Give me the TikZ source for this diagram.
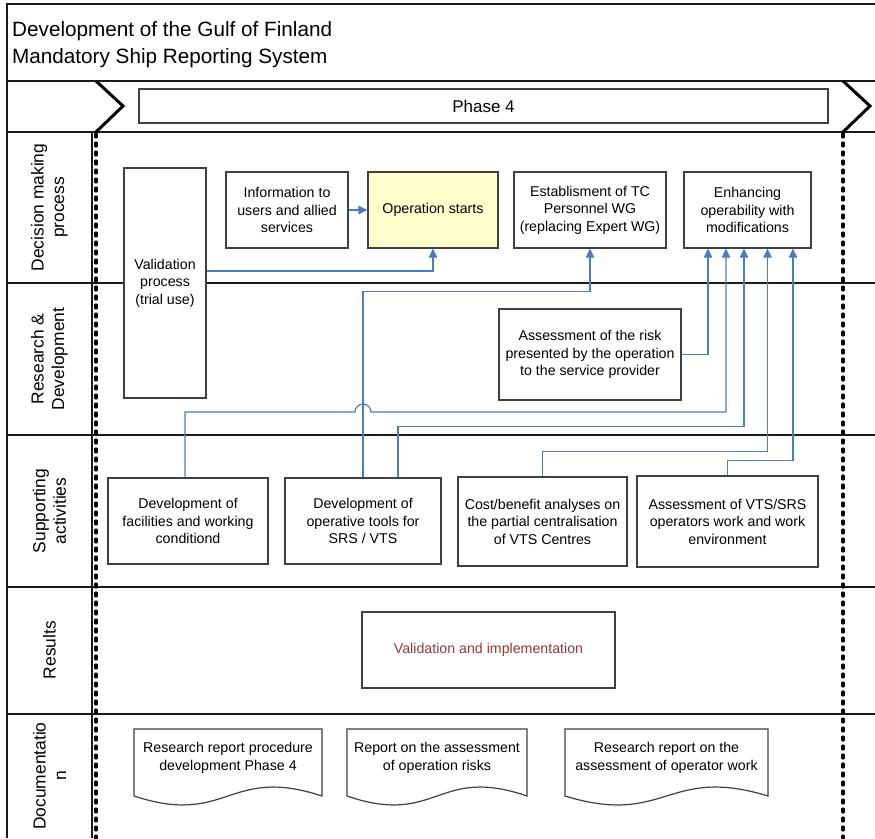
\documentclass[tikz,border=0pt]{standalone}
\usepackage{fontspec}
\setmainfont{Liberation Sans}
\usetikzlibrary{arrows.meta,calc}

\definecolor{connblue}{HTML}{4A7EBB}
\definecolor{opfill}{HTML}{FFFFCC}
\definecolor{resred}{HTML}{953735}
\definecolor{framegray}{HTML}{1A1A1A}
\definecolor{boxgray}{HTML}{404040}

\tikzset{
  frame/.style={draw=framegray, line width=1.1pt},
  chevron/.style={draw=black, line width=3pt},
  phaseline/.style={draw=black, line width=3.2pt, line cap=round, dash pattern=on 3pt off 6pt},
  box/.style={draw=boxgray, fill=white, line width=1.2pt, rectangle, inner sep=2pt,
    align=center, font=\fontsize{14.2}{17.5}\selectfont},
  doctext/.style={align=center, inner sep=0pt, font=\fontsize{14.2}{17.5}\selectfont},
  docshape/.style={draw=boxgray, line width=1.2pt, fill=white},
  lanelabel/.style={rotate=90, align=center, inner sep=0pt,
    font=\fontsize{17.4}{20.5}\selectfont},
  titletext/.style={anchor=base west, inner sep=0pt, font=\fontsize{20.7}{27}\selectfont},
  conn/.style={draw=connblue, line width=1.2pt},
  arr/.style={-{Triangle[width=8.5pt,length=9pt]}},
}

\begin{document}
\begin{tikzpicture}[x=1pt,y=-1pt]
\useasboundingbox (0,0) rectangle (875,838);

% ---- swimlane frame ----
\draw[frame] (7,838) -- (7,4) -- (875,4);
\foreach \yy in {81,132,283,435,587,714}
  \draw[frame] (7,\yy) -- (875,\yy);
\draw[frame] (92,132) -- (92,838);

% ---- title ----
\node[titletext] (title1) at (12,36) {Development of the Gulf of Finland};
\node[titletext] (title2) at (12,63) {Mandatory Ship Reporting System};

% ---- phase bar ----
\node[box, minimum width=689pt, minimum height=34pt, font=\fontsize{17}{20}\selectfont] (phase) at (483.5,106) {Phase 4};
\draw[chevron] (96,81) -- (123,106) -- (96,132);
\draw[chevron] (843,81) -- (870,106) -- (843,132);
\draw[phaseline] (96,134) -- (96,838);
\draw[phaseline] (843,134) -- (843,838);

% ---- lane labels ----
\node[lanelabel] (lbl1) at (49.5,207.5) {Decision making\\process};
\node[lanelabel] (lbl2) at (49.5,359) {Research \&\\Development};
\node[lanelabel] (lbl3) at (49.5,511) {Supporting\\activities};
\node[lanelabel] (lbl4) at (49.5,650) {Results};
\node[lanelabel] (lbl5) at (49.5,776) {Documentatio\\n};

% ---- decision making process ----
\node[box, minimum width=82pt, minimum height=230pt] (valid) at (165,283) {Validation\\process\\(trial use)};
\node[box, minimum width=122pt, minimum height=76pt] (info) at (287,210) {Information to\\users and allied\\services};
\node[box, minimum width=130pt, minimum height=76pt, fill=opfill] (opstart) at (433,210) {Operation starts};
\node[box, minimum width=152pt, minimum height=76pt] (estab) at (590,210) {Establisment of TC\\Personnel WG\\(replacing Expert WG)};
\node[box, minimum width=127pt, minimum height=76pt] (enh) at (747.5,210) {Enhancing\\operability with\\modifications};

% ---- research & development ----
\node[box, minimum width=182pt, minimum height=91pt] (risk) at (590,354.5) {Assessment of the risk\\presented by the operation\\to the service provider};

% ---- supporting activities ----
\node[box, minimum width=160pt, minimum height=86pt] (fac) at (188,521) {Development of\\facilities and working\\conditiond};
\node[box, minimum width=156pt, minimum height=86pt] (tools) at (363,521) {Development of\\operative tools for\\SRS / VTS};
\node[box, minimum width=169pt, minimum height=89pt] (cost) at (542.5,521.5) {Cost/benefit analyses on\\the partial centralisation\\of VTS Centres};
\node[box, minimum width=181pt, minimum height=91pt] (vts) at (727.5,521.5) {Assessment of VTS/SRS\\operators work and work\\environment};

% ---- results ----
\node[box, minimum width=253pt, minimum height=76pt, text=resred] (result) at (488.5,650) {Validation and implementation};

% ---- documentation ----
\draw[docshape] (134,729) -- (322,729) -- (322,796) .. controls (228,765) and (228,827) .. (134,796) -- cycle;
\draw[docshape] (347,729) -- (527,729) -- (527,796) .. controls (437,765) and (437,827) .. (347,796) -- cycle;
\draw[docshape] (565,729) -- (768,729) -- (768,796) .. controls (666.5,765) and (666.5,827) .. (565,796) -- cycle;
\node[doctext] (doc1) at (228,758) {Research report procedure\\development Phase 4};
\node[doctext] (doc2) at (437,758) {Report on the assessment\\of operation risks};
\node[doctext] (doc3) at (666.5,758) {Research report on the\\assessment of operator work};

% ---- connectors ----
\coordinate (hopy) at (0,412);
\draw[conn, arr] (info) -- (opstart);
\draw[conn, arr] ([yshift=12pt]valid.east) -| (opstart.south);
\draw[conn, arr] (tools.north) -- ++(0,-186) -| (estab.south);
\draw[conn, arr] (risk.east) -| ([xshift=-39.5pt]enh.south);
\draw[conn, arr] ([xshift=-3pt]fac.north) |- ([xshift=-8pt]tools.north |- hopy)
  arc[start angle=180, end angle=0, radius=8pt] -| ([xshift=-21.5pt]enh.south);
\draw[conn, arr] ([xshift=35pt]tools.north) -- ++(0,-51) -| ([xshift=-3.5pt]enh.south);
\draw[conn, arr] (cost.north) -- ++(0,-25) -| ([xshift=20pt]enh.south);
\draw[conn, arr] (vts.north) -- ++(0,-15) -| ([xshift=45.5pt]enh.south);
\end{tikzpicture}
\end{document}
